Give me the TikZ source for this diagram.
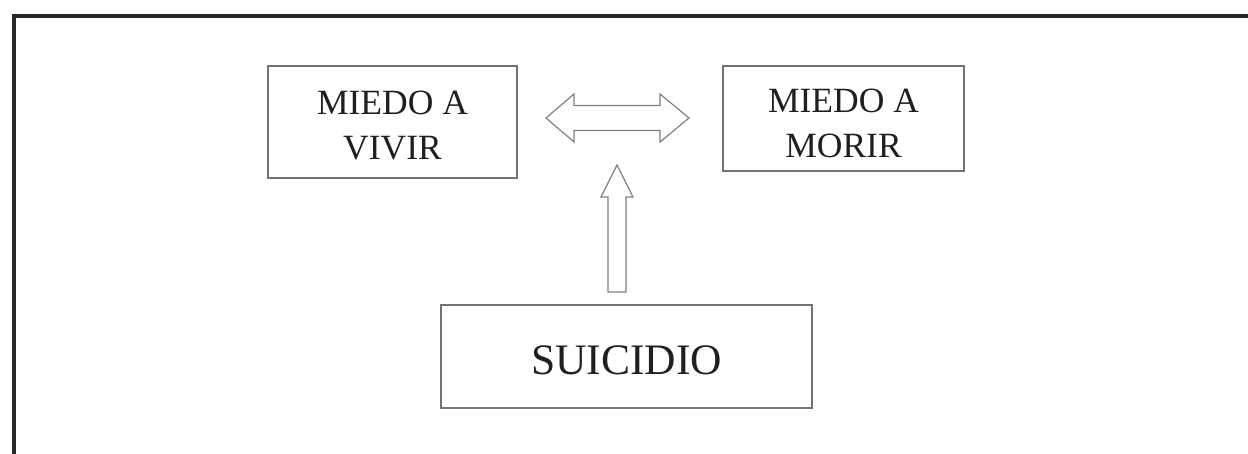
\documentclass[tikz,border=0pt]{standalone}
\usepackage{fontspec}
\setmainfont{Liberation Serif}
\usetikzlibrary{calc}
\begin{document}
\begin{tikzpicture}[x=1pt,y=-1pt,
  box/.style={draw=black!55,line width=1.3pt,inner sep=0pt},
  lbl/.style={inner sep=0pt,text=black!88,align=center},
  blockarrow/.style={draw=black!50,line width=1.2pt,line join=miter,fill=white}]
\useasboundingbox (0,0) rectangle (1248,454);
% outer frame, running off the right and bottom edges
\begin{scope}
  \clip (0,0) rectangle (1248,454);
  \draw[line width=4pt,black!85] (13.5,16) rectangle (1270,480);
\end{scope}
% the three boxes
\node[box,minimum width=249pt,minimum height=112pt] (vivir) at (392.5,122) {};
\node[box,minimum width=241pt,minimum height=105pt] (morir) at (843.5,118.5) {};
\node[box,minimum width=371pt,minimum height=103pt] (suicidio) at (626.5,356.5) {};
% their texts
\node[lbl,font=\fontsize{35.5}{45}\selectfont] (vivirtxt) at ($(vivir)+(0,4)$) {MIEDO A\\VIVIR};
\node[lbl,font=\fontsize{35.5}{45}\selectfont] (morirtxt) at ($(morir)+(0,4.5)$) {MIEDO A\\MORIR};
\node[lbl,font=\fontsize{43.5}{50}\selectfont] (suicidiotxt) at ($(suicidio)+(0,4)$) {SUICIDIO};
% double block arrow between the two fears
\coordinate (dc) at (617.5,118);
\draw[blockarrow] ($(dc)+(-71.5,0)$) -- ++(28,-24) -- ++(0,11.5) -- ++(86,0) -- ++(0,-11.5)
  -- ++(29,24) -- ++(-29,24) -- ++(0,-11.5) -- ++(-86,0) -- ++(0,11.5) -- cycle;
% single block arrow rising from SUICIDIO
\coordinate (uc) at (617,165);
\draw[blockarrow] (uc) -- ++(16,32) -- ++(-7,0) -- ++(0,95) -- ++(-18,0) -- ++(0,-95)
  -- ++(-7,0) -- cycle;
\end{tikzpicture}
\end{document}
